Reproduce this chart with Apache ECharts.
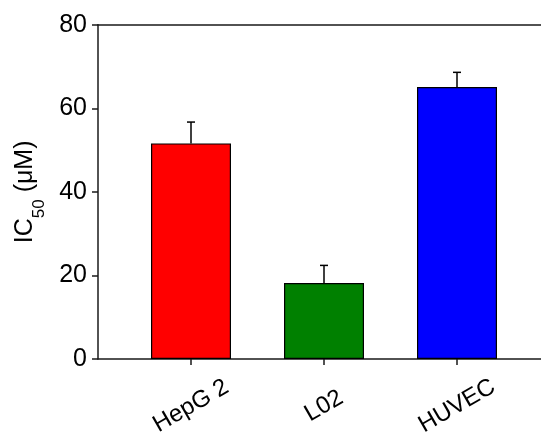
<!DOCTYPE html>
<html>
<head>
<meta charset="utf-8">
<script src="https://cdn.jsdelivr.net/npm/echarts@6/dist/echarts.min.js"></script>
<style>html,body{margin:0;padding:0;background:#fff;}#c{width:541px;height:444px;}</style>
</head>
<body>
<div id="c"></div>
<script>
const categories = ['HepG 2', 'L02', 'HUVEC'];
const values = [51.6, 18.2, 65.1];
const errors = [5.1, 4.2, 3.5];
const colors = ['#FF0000', '#008000', '#0000FF'];
const yTicks = [0, 20, 40, 60, 80];

const font = 'Arial, "Liberation Sans", Helvetica, sans-serif';
const chart = echarts.init(document.getElementById('c'), null, {renderer: 'canvas'});
const axisColor = '#1a1a1a';

const option = {
  animation: false,
  backgroundColor: '#fff',
  grid: [
    {left: 98, right: 0, top: 24.7, bottom: 85, containLabel: false, outerBoundsMode: 'none'},
    {left: 124.5, right: 17.5, top: 24.7, bottom: 85, containLabel: false, outerBoundsMode: 'none'}
  ],
  xAxis: [
    {gridIndex: 0, type: 'value', position: 'bottom', min: 0, max: 1,
     axisLine: {show: true, onZero: false, lineStyle: {color: axisColor, width: 1.5}},
     axisTick: {show: false}, axisLabel: {show: false}, splitLine: {show: false}},
    {gridIndex: 0, type: 'value', position: 'top', min: 0, max: 1,
     axisLine: {show: true, onZero: false, lineStyle: {color: axisColor, width: 1.5}},
     axisTick: {show: false}, axisLabel: {show: false}, splitLine: {show: false}},
    {gridIndex: 1, type: 'category', data: categories, position: 'bottom',
     axisLine: {show: false},
     axisTick: {show: true, alignWithLabel: true, length: 6, lineStyle: {color: axisColor, width: 1.5}},
     axisLabel: {rotate: 30, align: 'center', verticalAlign: 'middle', margin: 47,
       fontSize: 24, color: '#000', fontFamily: font},
     splitLine: {show: false}}
  ],
  yAxis: [
    {gridIndex: 0, type: 'value', min: 0, max: 80, interval: 20,
     axisLine: {show: true, onZero: false, lineStyle: {color: axisColor, width: 1.5}},
     axisTick: {show: true, length: 6, lineStyle: {color: axisColor, width: 1.5}},
     axisLabel: {fontSize: 25, color: '#000', fontFamily: font, margin: 11,
       formatter: function (v) { return yTicks.indexOf(v) >= 0 ? String(v) : ''; }},
     splitLine: {show: false},
     name: '{a|IC}{s|50}{a| (μM)}',
     nameLocation: 'middle', nameGap: 50, nameRotate: 90,
     nameTextStyle: {
       fontFamily: font, color: '#000',
       rich: {
         a: {fontSize: 25, lineHeight: 25, verticalAlign: 'top', fontFamily: font, color: '#000'},
         s: {fontSize: 17, lineHeight: 35, verticalAlign: 'bottom', fontFamily: font, color: '#000'}
       }
     }},
    {gridIndex: 1, type: 'value', min: 0, max: 80, interval: 20, show: false}
  ],
  series: [
    {type: 'bar', xAxisIndex: 2, yAxisIndex: 1, barWidth: 80,
     data: values.map((v, i) => ({value: v, itemStyle: {color: colors[i], borderColor: '#000', borderWidth: 1.2}})),
     z: 3},
    {type: 'custom', xAxisIndex: 2, yAxisIndex: 1, z: 2,
     data: values.map((v, i) => [i, v, errors[i]]),
     renderItem: function (params, api) {
       const x = api.value(0);
       const base = api.coord([x, api.value(1)]);
       const top = api.coord([x, api.value(1) + api.value(2)]);
       const cap = 4;
       const style = {stroke: '#000', lineWidth: 1.5};
       return {type: 'group', children: [
         {type: 'line', shape: {x1: base[0], y1: base[1], x2: top[0], y2: top[1]}, style: style},
         {type: 'line', shape: {x1: top[0] - cap, y1: top[1], x2: top[0] + cap, y2: top[1]}, style: style}
       ]};
     }}
  ]
};
chart.setOption(option);
</script>
</body>
</html>
